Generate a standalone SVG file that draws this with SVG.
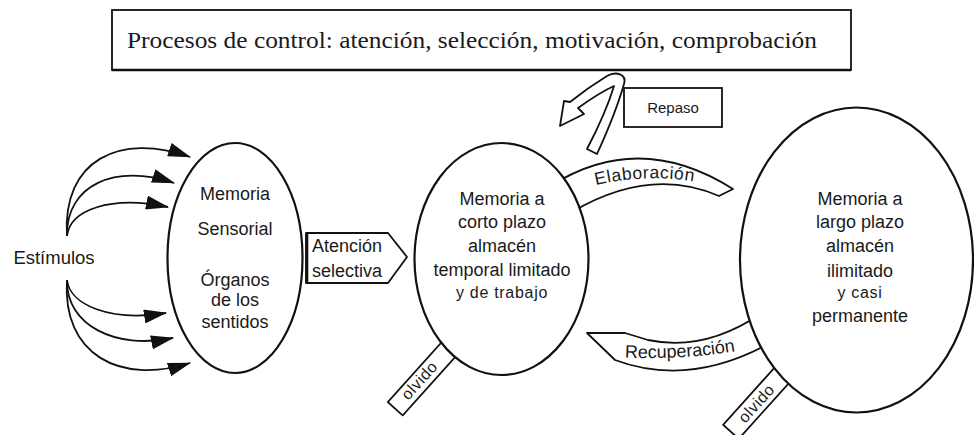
<svg xmlns="http://www.w3.org/2000/svg" width="974" height="435" viewBox="0 0 974 435">
<style>
.ln{fill:none;stroke:#111;stroke-width:1.8}
.sh{fill:#fff;stroke:#111;stroke-width:1.8;stroke-linejoin:round}
.el{fill:#fff;stroke:#111;stroke-width:2.2}
.t{font-family:"Liberation Sans",Arial,Helvetica,sans-serif;font-size:18px;fill:#1a1a1a;text-anchor:middle}
.s{font-size:16px;letter-spacing:0.7px}
.ol{font-size:16px;letter-spacing:0.6px}
.ser{font-family:"Liberation Serif","Times New Roman",serif;font-size:24px;fill:#1a1a1a}
</style>
<defs>
<marker id="ah" markerUnits="userSpaceOnUse" markerWidth="23" markerHeight="14" refX="22" refY="7" orient="auto">
<path d="M0,0 L23,7 L0,14 Z" fill="#111"/>
</marker>
<path id="elabPath" d="M588,187 Q645,172 702,183"/>
<path id="recPath" d="M618,357 Q680,361 742,350"/>
</defs>
<rect width="974" height="435" fill="#fff"/>

<g id="control">
<rect x="112" y="10" width="739" height="60" fill="#fff" stroke="#111" stroke-width="1.8"/>
<line x1="112" y1="70" x2="851" y2="70" stroke="#111" stroke-width="2.6"/>
<text class="ser" x="127" y="48" textLength="690" lengthAdjust="spacingAndGlyphs">Procesos de control: atención, selección, motivación, comprobación</text>
</g>

<g id="estimulos">
<text class="t" x="54" y="264" style="font-size:18.5px">Estímulos</text>
</g>

<g id="connectors">
<path class="ln" marker-end="url(#ah)" d="M67,236 C62,160 120,132 190,157"/>
<path class="ln" marker-end="url(#ah)" d="M67,236 C66,185 115,163 174,183"/>
<path class="ln" marker-end="url(#ah)" d="M67,236 C70,210 110,195 168,207"/>
<path class="ln" marker-end="url(#ah)" d="M67,280 C70,305 110,322 166,313"/>
<path class="ln" marker-end="url(#ah)" d="M67,280 C66,325 115,350 173,338"/>
<path class="ln" marker-end="url(#ah)" d="M67,280 C62,355 120,385 190,363"/>
</g>

<g id="repaso-arrow">
<path class="sh" d="M587,149 L597,154 C608,130 618,105 624,84 C627,74 616,71 607,76 C594,84 580,94 570,102 L564,101 L560,126 L584,114 L578,108 C592,98 605,90 614,86 C608,106 598,128 587,149 Z"/>
</g>
<g id="repaso">
<rect x="624" y="88" width="98" height="39" fill="#fff" stroke="#111" stroke-width="1.8"/>
<text class="t" x="673" y="113" style="font-size:15px">Repaso</text>
</g>

<g id="elaboracion">
<path class="sh" d="M552,185 Q640,130 733,189 L719,196 Q650,166 572,212 Z"/>
<text class="t" style="font-size:17.5px;letter-spacing:0.6px"><textPath href="#elabPath" startOffset="50%">Elaboración</textPath></text>
</g>

<g id="recuperacion">
<path class="sh" d="M762,313 Q705,352 648,340 L625,333 L587,333 L615,360 Q690,388 772,342 Z"/>
<text class="t" style="font-size:18px"><textPath href="#recPath" startOffset="50%">Recuperación</textPath></text>
</g>

<g id="olvido-corto">
<rect class="sh" x="382" y="369" width="80" height="20" transform="rotate(-48 422 379)"/>
<text class="t ol" x="419" y="386" transform="rotate(-48 419 380)">olvido</text>
</g>

<g id="olvido-largo">
<rect class="sh" x="717" y="391" width="82" height="21" transform="rotate(-48 758 401)"/>
<text class="t ol" x="756" y="409" transform="rotate(-48 756 403)">olvido</text>
</g>

<g id="atencion">
<path class="sh" d="M306,233 L388,233 L407,257 L388,283 L306,283 Z"/>
<line x1="307" y1="233" x2="307" y2="283" stroke="#111" stroke-width="2.6"/>
<text class="t" x="312" y="252" style="text-anchor:start">Atención</text>
<text class="t" x="312" y="277" style="text-anchor:start">selectiva</text>
</g>

<g id="sensorial">
<ellipse class="el" cx="235" cy="258" rx="67.5" ry="115"/>
<text class="t" x="235" y="200">Memoria</text>
<text class="t" x="235" y="235">Sensorial</text>
<text class="t" x="235" y="286">Órganos</text>
<text class="t" x="235" y="306">de los</text>
<text class="t" x="235" y="328">sentidos</text>
</g>

<g id="corto-plazo">
<ellipse class="el" cx="501.5" cy="259" rx="87" ry="116"/>
<text class="t" x="502" y="205">Memoria a</text>
<text class="t" x="502" y="228">corto plazo</text>
<text class="t" x="502" y="252">almacén</text>
<text class="t" x="502" y="276">temporal limitado</text>
<text class="t s" x="502" y="298">y de trabajo</text>
</g>

<g id="largo-plazo">
<ellipse class="el" cx="856.5" cy="260" rx="116.5" ry="152.5"/>
<text class="t" x="860" y="205">Memoria a</text>
<text class="t" x="860" y="228">largo plazo</text>
<text class="t" x="860" y="252">almacén</text>
<text class="t" x="860" y="277">ilimitado</text>
<text class="t s" x="860" y="298">y casi</text>
<text class="t" x="860" y="322">permanente</text>
</g>
</svg>
